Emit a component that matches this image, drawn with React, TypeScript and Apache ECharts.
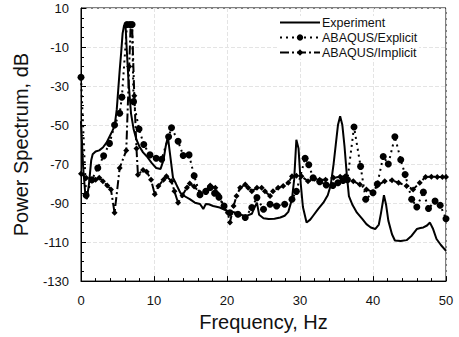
import React, { useEffect, useRef } from "react";
import * as echarts from "echarts";

const expFreq = [0, 0.3, 0.6, 0.8, 1.1, 1.4, 1.6, 2.0, 2.5, 3.0, 3.5, 3.9, 4.3, 4.6, 4.9, 5.1, 5.3, 5.5, 5.7, 5.9, 6.1, 6.25, 6.5, 6.85, 7.2, 7.6, 8.0, 8.5, 9.0, 9.7, 10.3, 10.9, 11.3, 11.6, 11.9, 12.2, 12.6, 13.0, 13.6, 14.2, 14.9, 15.6, 16.3, 16.75, 17.1, 17.5, 18.1, 19.0, 20.0, 21.3, 22.5, 23.4, 23.8, 24.1, 24.4, 25.0, 25.7, 26.5, 27.3, 27.9, 28.4, 28.9, 29.2, 29.5, 29.8, 30.1, 30.4, 30.9, 31.4, 31.8, 32.5, 33.2, 33.8, 34.2, 34.6, 34.9, 35.2, 35.5, 35.8, 36.1, 36.4, 36.7, 37.2, 37.8, 38.5, 39.1, 39.7, 40.3, 40.8, 41.1, 41.5, 41.8, 42.1, 42.6, 43.0, 43.8, 44.6, 45.3, 46.0, 46.5, 46.9, 47.4, 47.8, 48.2, 48.7, 49.3, 50.0];
const expDb = [-48, -72, -86, -88, -80, -68, -65, -63.6, -63, -61.5, -59, -56, -53, -50.5, -42, -32, -22, -13, -3, 1, 1, -10, -27, -44, -52, -57.5, -61, -64, -66, -69.5, -72, -72.5, -68, -61, -56, -65, -77, -80, -84.7, -86.5, -88, -89.8, -90.5, -93, -90.5, -90.6, -91.5, -92.3, -94, -94.9, -96.8, -95.5, -92, -89.8, -96, -97.8, -98.2, -98, -97.4, -96.5, -94.5, -88, -78, -57.6, -62, -80, -92, -100, -98.5, -96.5, -93, -89.8, -86, -81, -70, -60, -50, -45.5, -50, -61, -75, -86.4, -91, -94.9, -98, -100.8, -102.5, -103.3, -101, -95, -86, -91, -99, -106, -109.2, -109.5, -109, -106.7, -103.3, -102.8, -102.5, -101.5, -100, -103, -108.4, -111.5, -114.5];

const explFreq = [0, 0.7, 1.5, 2.3, 3.1, 3.9, 4.6, 5.3, 5.6, 6.3, 6.7, 7.0, 7.2, 7.95, 8.6, 9.45, 10.3, 11.05, 12.0, 12.4, 13.3, 14.0, 14.8, 15.5, 16.3, 17.1, 17.7, 18.3, 18.9, 19.6, 20.4, 21.5, 22.5, 23.4, 24.1, 25.0, 25.9, 26.8, 27.9, 28.9, 29.5, 30.7, 31.2, 31.8, 32.7, 33.6, 34.5, 35.2, 35.9, 36.5, 37.4, 38.3, 39.0, 40.0, 40.6, 41.4, 42.1, 43.0, 43.8, 44.4, 45.3, 46.0, 46.9, 47.6, 48.5, 49.2, 50.0];
const explDb = [-25.5, -86, -78, -72, -65.8, -59.4, -50, -44, -35.7, 1.5, 1.5, 1.5, -38, -52, -60, -65.3, -67, -67.5, -56, -51.4, -58.3, -65.6, -65.3, -76, -85.7, -84, -82, -85, -87, -91.5, -95, -95.7, -97.4, -92.3, -87.2, -93.2, -90.6, -91.5, -90.6, -88, -84, -67, -70.4, -77, -79, -80.7, -81, -79.6, -78.4, -78, -51, -71.2, -88, -84.7, -80.2, -66.1, -70, -56, -67.8, -75.4, -88, -92, -84.4, -92.8, -89, -91.1, -98];

const implFreq = [0, 0.7, 1.5, 2.0, 2.5, 3.0, 3.6, 4.1, 4.6, 5.3, 6.2, 6.6, 6.8, 7.0, 7.3, 7.6, 7.8, 8.5, 9.0, 9.6, 10.1, 10.6, 11.3, 11.7, 12.4, 12.8, 13.3, 13.9, 14.5, 14.9, 15.5, 16.3, 17.0, 17.7, 18.4, 18.8, 19.5, 20.1, 20.4, 20.9, 21.3, 21.8, 22.5, 22.9, 23.4, 24.1, 24.75, 25.2, 25.9, 26.3, 27.0, 27.7, 28.4, 28.9, 29.5, 30.2, 31.1, 32.0, 32.7, 33.5, 34.6, 35.5, 36.2, 37.3, 38.2, 39.1, 40.0, 40.6, 41.6, 42.6, 43.5, 44.6, 45.5, 46.4, 47.2, 48.0, 48.8, 49.5, 50.0];
const implDb = [-75, -77, -78.5, -78, -77, -78.8, -81, -83, -95, -72, -63, -20, 1, 1, -35, -62, -75.5, -73, -74, -78, -85.5, -81.3, -78, -76.3, -78.8, -84, -89.8, -86, -82.2, -80, -81.5, -84.7, -84, -81, -82.2, -85.5, -91.5, -95, -100, -91.5, -86.4, -82.2, -80.5, -82.2, -83.9, -82.2, -82.2, -83.9, -86.4, -83.9, -82.2, -81.3, -79.6, -76.3, -76, -76.3, -78.8, -77.5, -78, -78, -77, -76.5, -76.3, -78.8, -80.5, -83, -84.4, -81, -78.8, -78.3, -79.6, -81.3, -83, -79.6, -76.6, -76.5, -76.6, -76.6, -76.6];

const seriesNames = ["Experiment", "ABAQUS/Explicit", "ABAQUS/Implicit"];
const xTicks = { min: 0, max: 50, step: 10 };
const yTicks = { min: -130, max: 10, step: 20 };

const zip = (xs: number[], ys: number[]) => xs.map((x, i) => [x, ys[i]]);

const FONT = "'Liberation Sans', Arial, Helvetica, sans-serif";

export default function App() {
  const ref = useRef<HTMLDivElement>(null);
  useEffect(() => {
    if (!ref.current) return;
    const chart = echarts.init(ref.current, undefined, { renderer: "svg" });
    const axisCommon = {
      axisLine: { show: true, onZero: false, lineStyle: { color: "#000", width: 1 } },
      axisTick: { show: true, inside: true, length: 5, lineStyle: { color: "#000" } },
      minorTick: { show: true, length: 3, lineStyle: { color: "#000" } },
      splitLine: { show: true, lineStyle: { color: "#e4e4e4", type: "dashed", width: 1 } },
      axisLabel: { color: "#111", fontSize: 13, fontFamily: FONT },
      nameTextStyle: { color: "#111", fontSize: 20, fontFamily: FONT },
    };
    chart.setOption({
      animation: false,
      backgroundColor: "#fff",
      grid: {
        left: 81,
        right: 13,
        top: 8,
        bottom: 52,
        show: true,
        borderColor: "#000",
        borderWidth: 1,
        backgroundColor: "transparent",
      },
      legend: {
        data: [
          { name: seriesNames[0], itemStyle: { opacity: 0 } },
          { name: seriesNames[1] },
          { name: seriesNames[2] },
        ],
        orient: "vertical",
        left: 279,
        top: 16,
        itemWidth: 40,
        itemHeight: 8,
        itemGap: 2,
        textStyle: { color: "#111", fontSize: 12.5, fontFamily: FONT, lineHeight: 13, padding: [0, 0, 0, -3] },
        backgroundColor: "#fff",
        padding: [0, 2, 0, 0],
      },
      xAxis: {
        ...axisCommon,
        type: "value",
        min: xTicks.min,
        max: xTicks.max,
        interval: xTicks.step,
        minorTick: { ...axisCommon.minorTick, splitNumber: 5 },
        axisLabel: { ...axisCommon.axisLabel, margin: 13 },
        name: "Frequency, Hz",
        nameLocation: "middle",
        nameGap: 21,
      },
      yAxis: {
        ...axisCommon,
        type: "value",
        min: yTicks.min,
        max: yTicks.max,
        interval: yTicks.step,
        minorTick: { ...axisCommon.minorTick, splitNumber: 4 },
        axisLabel: { ...axisCommon.axisLabel, margin: 12 },
        name: "Power Spectrum, dB",
        nameLocation: "middle",
        nameGap: 50,
      },
      series: [
        {
          name: seriesNames[0],
          type: "line",
          data: zip(expFreq, expDb),
          symbol: "none",
          lineStyle: { color: "#000", width: 2, type: "solid" },
          itemStyle: { color: "#000" },
          z: 3,
        },
        {
          name: seriesNames[1],
          type: "line",
          data: zip(explFreq, explDb),
          symbol: "circle",
          symbolSize: 7,
          showSymbol: true,
          lineStyle: { color: "#000", width: 2, type: [2, 4] },
          itemStyle: { color: "#000" },
          z: 2,
        },
        {
          name: seriesNames[2],
          type: "line",
          data: zip(implFreq, implDb),
          symbol: "diamond",
          symbolSize: 6,
          showSymbol: true,
          lineStyle: { color: "#000", width: 2, type: [9, 3, 2, 3] },
          itemStyle: { color: "#000" },
          z: 2,
        },
      ],
    });
    return () => chart.dispose();
  }, []);
  return (
    <div
      ref={ref}
      style={{ position: "absolute", left: 0, top: 0, width: 459, height: 337 }}
    />
  );
}
